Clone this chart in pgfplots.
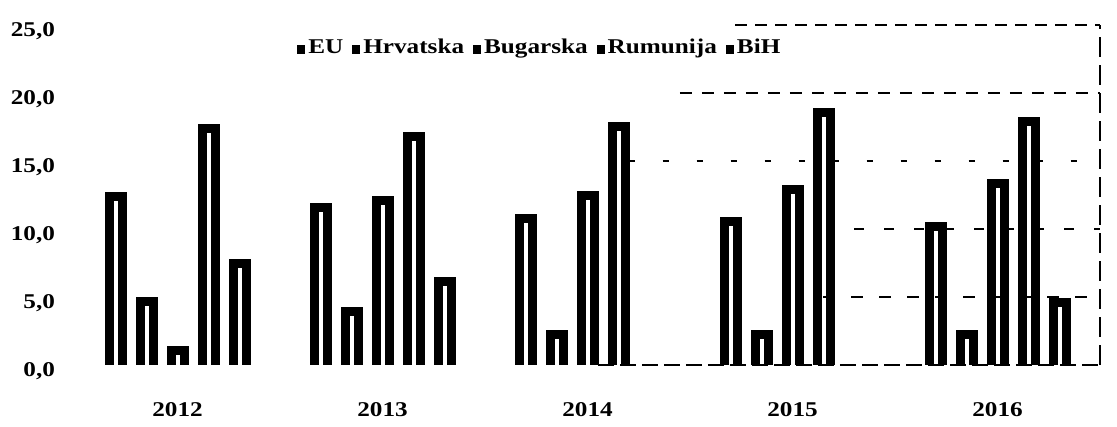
\documentclass[border=0pt]{standalone}
\usepackage{fontspec}
\setmainfont[FakeStretch=1.2]{Liberation Serif}
\usepackage{pgfplots}
\pgfplotsset{compat=1.18}
\tikzset{mybar/.style={draw=black, fill=white, line width=4.5pt, line join=miter, yshift=-2.25pt}}
\begin{document}
\begin{tikzpicture}
\begin{axis}[
  scale only axis, width=512.5pt, height=170pt,
  xmin=-0.5, xmax=4.5, ymin=0, ymax=25,
  ybar=9pt, bar width=6.5pt,
  xtick={0,1,2,3,4}, xticklabels={2012,2013,2014,2015,2016},
  ytick={0,5,10,15,20,25},
  axis line style={draw=none},
  major tick length=0pt,
  tick label style={font=\fontsize{10.5}{12}\selectfont\bfseries},
  /pgf/number format/assume math mode=true,
  yticklabel style={/pgf/number format/fixed, /pgf/number format/fixed zerofill, /pgf/number format/precision=1, /pgf/number format/use comma, yshift=-3pt, xshift=-6.5pt},
  xticklabel style={yshift=-15pt},
  legend image code/.code={\fill[black, draw=none] (0pt,-0.6pt) rectangle (4pt,3.6pt);},
  legend style={at={(0.454,0.932)}, anchor=center, legend columns=-1, draw=none, fill=none,
    font=\fontsize{10.5}{12}\selectfont\bfseries,
    /tikz/every even column/.append style={column sep=3pt},
    nodes={inner sep=1.5pt}},
]
\addplot[mybar] coordinates {(0,12.7) (1,11.9) (2,11.1) (3,10.9) (4,10.5)};
\addplot[mybar] coordinates {(0,5.0) (1,4.3) (2,2.6) (3,2.6) (4,2.6)};
\addplot[mybar] coordinates {(0,1.4) (1,12.4) (2,12.8) (3,13.2) (4,13.7)};
\addplot[mybar] coordinates {(0,17.7) (1,17.1) (2,17.9) (3,18.9) (4,18.2)};
\addplot[mybar] coordinates {(0,7.8) (1,6.5) (4,4.9)};
\legend{EU, Hrvatska, Bugarska, Rumunija, BiH}
\coordinate (t1) at (axis cs:2.72,25);
\coordinate (t2) at (axis cs:4.5,25);
\coordinate (a1) at (axis cs:2.45,20);
\coordinate (a2) at (axis cs:4.5,20);
\coordinate (b1) at (axis cs:2.2,15);
\coordinate (b2) at (axis cs:4.5,15);
\coordinate (c1) at (axis cs:3.3,10);
\coordinate (c2) at (axis cs:4.5,10);
\coordinate (d1) at (axis cs:3.15,5);
\coordinate (d2) at (axis cs:4.5,5);
\coordinate (e1) at (axis cs:2.05,0);
\coordinate (e2) at (axis cs:4.5,0);
\end{axis}
\begin{scope}[line width=0.7pt]
\draw[dash pattern=on 6pt off 4pt] (t1) -- (t2);
\draw[dash pattern=on 6pt off 5pt] (a1) -- (a2);
\draw[dash pattern=on 3pt off 14pt] (b1) -- (b2);
\draw[dash pattern=on 5pt off 10pt] (c1) -- (c2);
\draw[dash pattern=on 6pt off 8pt] (d1) -- (d2);
\draw[dash pattern=on 8pt off 3pt] (e1) -- (e2);
\draw[dash pattern=on 10pt off 4pt] (e2) -- (t2);
\end{scope}
\path ([shift={(-37.5pt,-31pt)}]current axis.south west) rectangle ([shift={(521pt,182.5pt)}]current axis.south west);
\end{tikzpicture}
\end{document}
